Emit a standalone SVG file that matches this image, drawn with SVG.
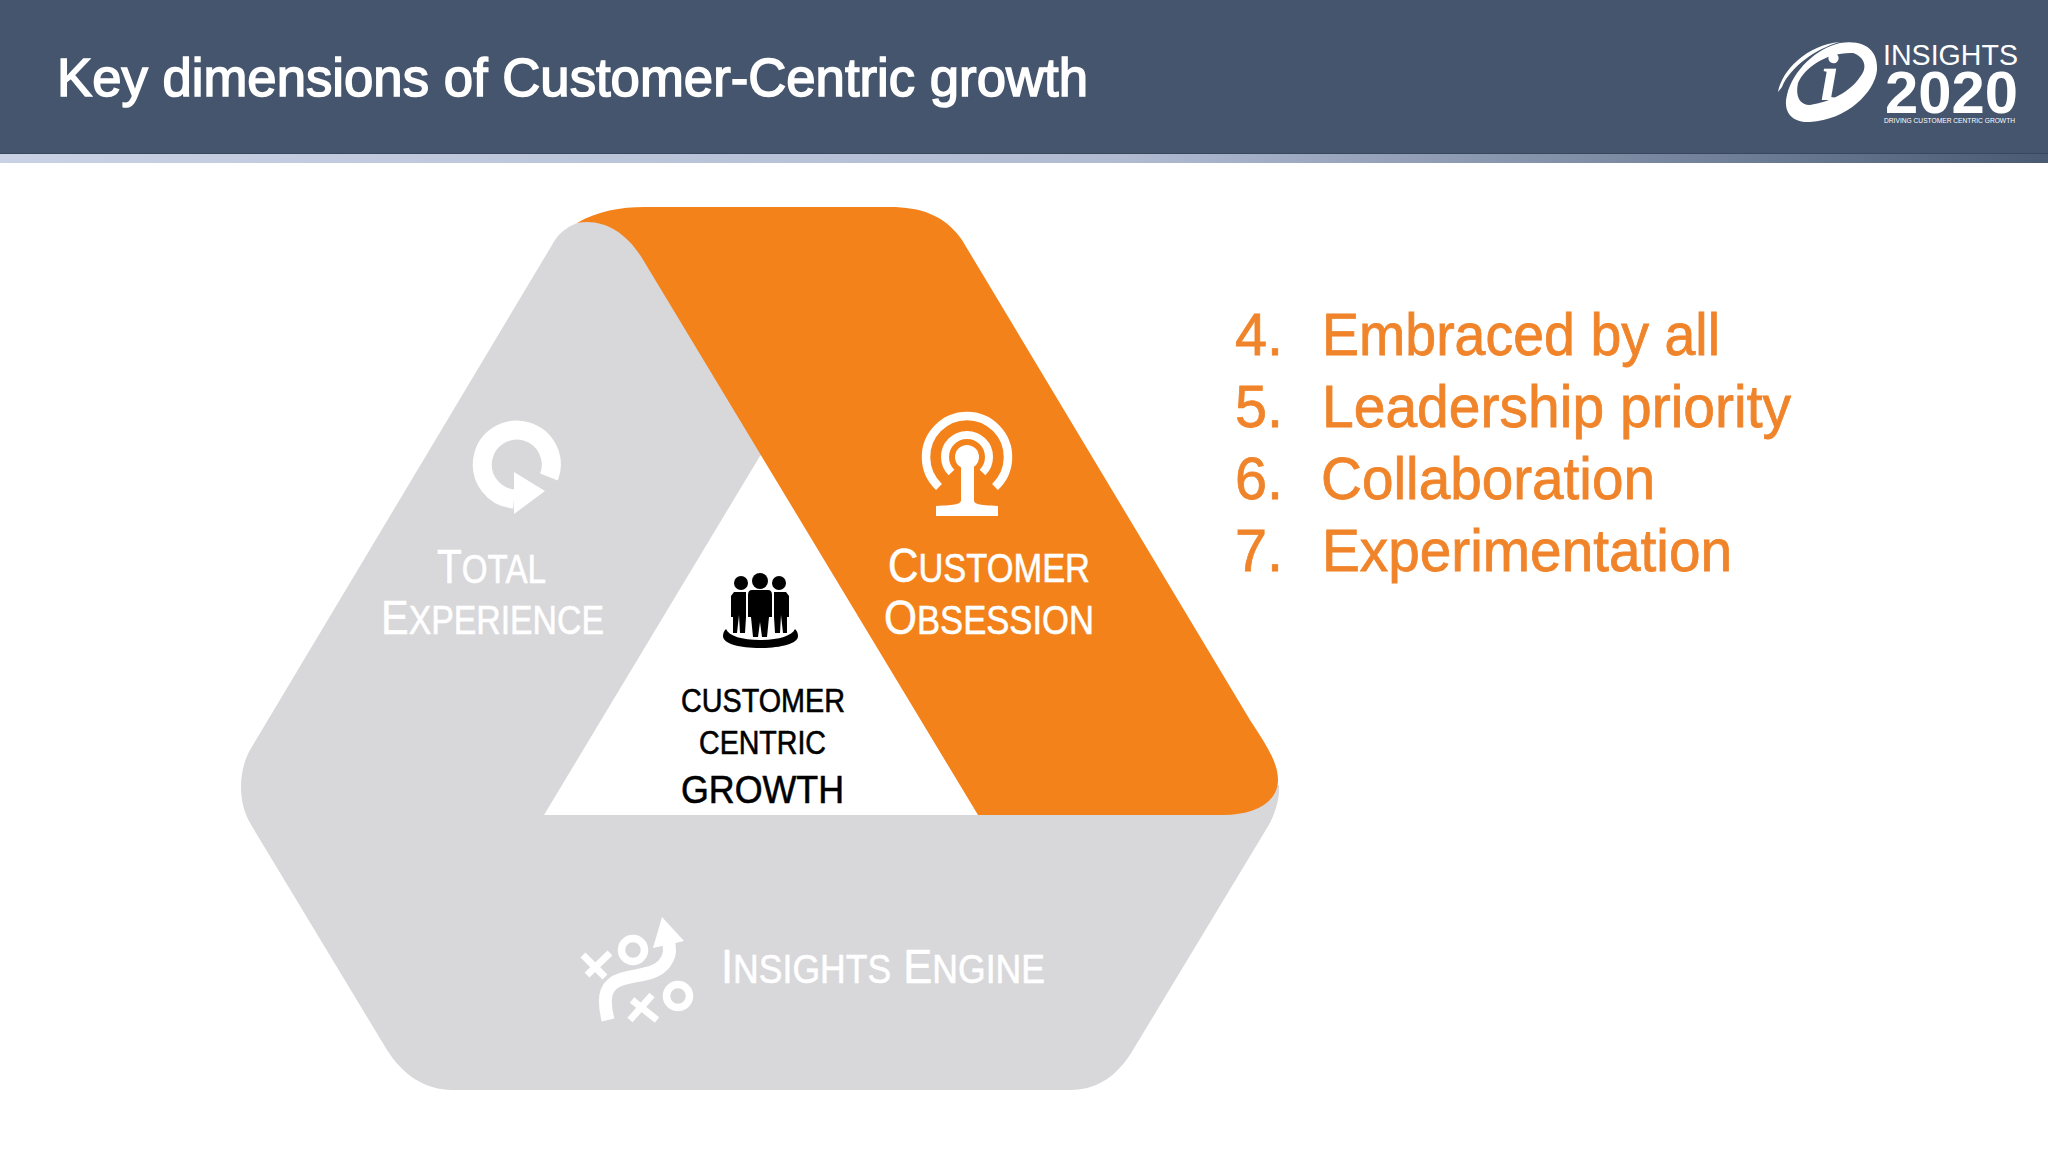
<svg xmlns="http://www.w3.org/2000/svg" width="2048" height="1152" viewBox="0 0 2048 1152">
<defs>
<linearGradient id="strip" x1="0" x2="1" y1="0" y2="0"><stop offset="0" stop-color="#c9d1e4"/><stop offset="0.55" stop-color="#b0bbd2"/><stop offset="0.85" stop-color="#6f7e97"/><stop offset="1" stop-color="#4a5a72"/></linearGradient>
</defs>
<style>
text{font-family:"Liberation Sans",Arial,sans-serif}
.w{fill:#fff}
.k{fill:#000;stroke:#000;stroke-width:.6}
.li{font-size:59px;fill:#f0842a;stroke:#f0842a;stroke-width:.8}
.lab{stroke:#fff;stroke-width:.6}
.big{font-size:49px}
.sm{font-size:40px}
.logo{font-family:"Liberation Sans",sans-serif}
.gray{fill:#d8d7da}
.orange{fill:#f3821b}
</style>
<rect width="2048" height="1152" fill="#fff"/>
<rect width="2048" height="154" fill="#45556d"/>
<rect y="153" width="2048" height="1" fill="#38475c"/>
<rect y="154" width="2048" height="9" fill="url(#strip)"/>
<text x="57" y="96" class="w" font-size="54" stroke="#fff" stroke-width="1.6" textLength="1031" lengthAdjust="spacingAndGlyphs">Key dimensions of Customer-Centric growth</text>
<g id="logo">
<path fill="#fff" fill-rule="evenodd" d="M1840 43C1868 39 1878 53 1877 70C1875 92 1847 120 1810 122C1790 123 1783 110 1787 95C1793 70 1817 48 1840 43ZM1853 53C1827 52 1805 67 1798 83C1795 97 1800 105 1810 105C1830 102 1850 92 1860 77C1868 68 1865 57 1853 53Z"/>
<path fill="#fff" d="M1778 92C1782 70 1807 45 1840 42C1817 48 1790 67 1782 87Z"/>
<text x="1820" y="100" fill="#fff" font-size="68" font-weight="700" font-style="italic" style="font-family:'Liberation Serif',serif">i</text>
<text x="1883" y="65" class="w logo" font-size="29" textLength="135" lengthAdjust="spacingAndGlyphs">INSIGHTS</text>
<text x="1885" y="113" class="w logo" font-size="60" font-weight="700" textLength="133" lengthAdjust="spacingAndGlyphs">2020</text>
<text x="1884" y="123" class="w logo" font-size="8" textLength="131" lengthAdjust="spacingAndGlyphs">DRIVING CUSTOMER CENTRIC GROWTH</text>
</g>
<g id="insights-engine">
<path class="gray" d="M544 815H978L1000 800H1200L1279 785C1280 797 1276 811 1270 823L1133 1050C1118 1075 1098 1090 1070 1090H453C425 1090 403 1075 387 1050L250 823L300 800Z"/>
<path fill="none" stroke="#fff" stroke-width="13" d="M608 1020C602 995 606 984 622 979C640 974 655 975 664 964C671 955 670 950 668 938"/>
<path fill="#fff" d="M662 917L684 941L653 948Z"/>
<g fill="none" stroke="#fff"><circle cx="633" cy="950" r="11.5" stroke-width="7.5"/><circle cx="678" cy="996" r="11.5" stroke-width="7.5"/><path stroke-width="7" d="M583 955L605 977M610 953L587 975M632 1000L657 1020M652 995L630 1020"/></g>
<text x="721" y="983" class="w big lab" textLength="324" lengthAdjust="spacingAndGlyphs">I<tspan class="sm">NSIGHTS</tspan> E<tspan class="sm">NGINE</tspan></text>
</g>
<g id="total-experience">
<path class="gray" d="M577 223C584 221 595 221 605 223L660 255L768 450L760 456L544 815L540 822L250 823C238 802 238 772 250 750L555 240C562 230 570 226 577 223Z"/>
<g transform="translate(2 1)">
<path fill="none" stroke="#fff" stroke-width="19" d="M547 476A34.500 34.500 0 1 0 512 498"/>
<path fill="#fff" d="M512 471L543 490L512 513Z"/>
</g>
<text x="437" y="583" textLength="109" lengthAdjust="spacingAndGlyphs" class="w big lab">T<tspan class="sm">OTAL</tspan></text>
<text x="381" y="634" textLength="223" lengthAdjust="spacingAndGlyphs" class="w big lab">E<tspan class="sm">XPERIENCE</tspan></text>
</g>
<g id="customer-obsession">
<path class="orange" d="M577 223C598 211 620 207 645 207H890C920 207 945 215 962 240L1250 720C1270 750 1278 765 1278 780C1278 802 1255 815 1223 815H978L642 258C625 230 600 218 577 223Z"/>
<g fill="none" stroke="#fff">
<path stroke-width="8.500" d="M939 487A41 41 0 1 1 995 487"/>
<path stroke-width="8" d="M951.500 472.500A22 22 0 1 1 982.500 472.500"/>
</g>
<circle cx="967" cy="457" r="12" fill="#fff"/>
<path fill="#fff" d="M961 460H974V500C974 504 978 505 998 506V516H936V506C956 505 961 504 961 500Z"/>
<text x="888" y="582" textLength="202" lengthAdjust="spacingAndGlyphs" class="w big lab">C<tspan class="sm">USTOMER</tspan></text>
<text x="884" y="634" textLength="210" lengthAdjust="spacingAndGlyphs" class="w big lab">O<tspan class="sm">BSESSION</tspan></text>
</g>
<g id="customer-centric-growth">
<g fill="#000">
<circle cx="741" cy="583" r="7"/><circle cx="760" cy="581" r="8"/><circle cx="779" cy="583" r="7"/>
<path d="M752 590H768Q772 590 772 595V617H769L767 637H762L760 622L758 637H753L751 617H748V595Q748 590 752 590Z"/>
<path d="M734 592H746V617L745 633H740L739 615L737 633H733V617H731V596Z"/>
<path d="M786 592H774V617L775 633H780L781 615L783 633H787V617H789V596Z"/>
<path d="M723 636C723 644 740 648 760 648C780 648 798 644 798 636C798 633 797 631 795 629C792 636 778 640 760 640C742 640 729 636 726 629C724 631 723 633 723 636Z"/>
</g>
<text x="681" y="712" class="k" font-size="33" textLength="164" lengthAdjust="spacingAndGlyphs">CUSTOMER</text>
<text x="699" y="754" class="k" font-size="33" textLength="127" lengthAdjust="spacingAndGlyphs">CENTRIC</text>
<text x="681" y="803" class="k" font-size="39" textLength="163" lengthAdjust="spacingAndGlyphs">GROWTH</text>
</g>
<g id="list">
<text x="1235" y="355" class="li" textLength="48" lengthAdjust="spacingAndGlyphs">4.</text><text x="1322" y="355" class="li" textLength="398" lengthAdjust="spacingAndGlyphs">Embraced by all</text>
<text x="1235" y="427" class="li" textLength="48" lengthAdjust="spacingAndGlyphs">5.</text><text x="1322" y="427" class="li" textLength="469" lengthAdjust="spacingAndGlyphs">Leadership priority</text>
<text x="1235" y="499" class="li" textLength="48" lengthAdjust="spacingAndGlyphs">6.</text><text x="1321" y="499" class="li" textLength="334" lengthAdjust="spacingAndGlyphs">Collaboration</text>
<text x="1235" y="571" class="li" textLength="48" lengthAdjust="spacingAndGlyphs">7.</text><text x="1322" y="571" class="li" textLength="410" lengthAdjust="spacingAndGlyphs">Experimentation</text>
</g>
</svg>
